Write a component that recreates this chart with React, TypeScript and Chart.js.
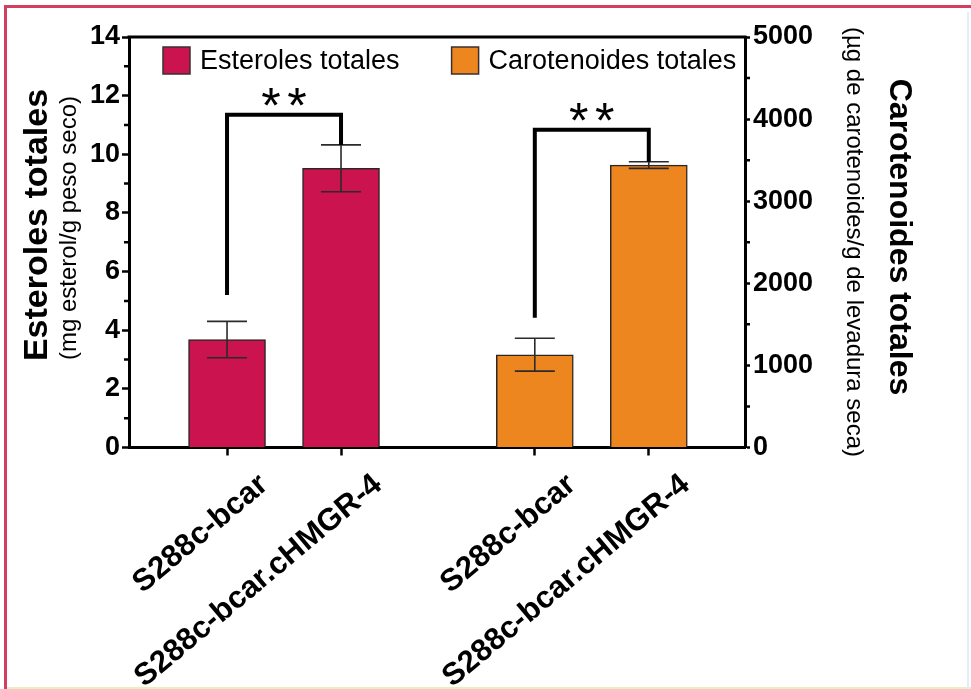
import { useEffect, useRef } from 'react';
import { Chart, registerables } from 'chart.js';

Chart.register(...registerables);

// Strains shown under each bar
const strainLabels = ['S288c-bcar', 'S288c-bcar.cHMGR-4', 'S288c-bcar', 'S288c-bcar.cHMGR-4'];

// Total sterols (mg sterol / g dry weight), mean and SD
const sterolLabel = 'Esteroles totales';
const sterolValues = [3.68, 9.52];
const sterolErrors = [0.62, 0.8];

// Total carotenoids (µg / g dry yeast), mean and SD
const carotenoidLabel = 'Carotenoides totales';
const carotenoidValues = [1130, 3440];
const carotenoidErrors = [200, 40];

// Axis tick labels
const sterolTickValues = [0, 2, 4, 6, 8, 10, 12, 14];
const carotenoidTickValues = [0, 1000, 2000, 3000, 4000, 5000];

// Significance brackets: bracket height and foot of the left leg, in axis units
const significance = [
  { dataset: 0, level: 11.35, leftFoot: 5.2, mark: '**' },
  { dataset: 1, level: 3870, leftFoot: 1580, mark: '**' },
];

// Horizontal slots of the four bars (second pair is set apart)
const slotX = [1, 2, 3.7, 4.7];
const X_MIN = 0.14;
const X_MAX = 5.544;

const SANS = '"Liberation Sans", Arial, sans-serif';
const STEROL_COLOR = '#cb1350';
const CAROTENOID_COLOR = '#ee8620';
const BAR_EDGE = '#2e2626';

const seriesInfo = [
  { values: sterolValues, errors: sterolErrors, axis: 'yL' },
  { values: carotenoidValues, errors: carotenoidErrors, axis: 'yR' },
];

const decorations = {
  id: 'decorations',
  beforeDraw(chart: any) {
    const { ctx, width, height } = chart;
    ctx.save();
    ctx.fillStyle = '#ffffff';
    ctx.fillRect(0, 0, width, height);
    // sheet frame
    ctx.fillStyle = '#d3405f';
    ctx.fillRect(4, 5, width - 4, 3);
    ctx.fillRect(4, 5, 3, height - 5);
    ctx.fillStyle = '#e3efc4';
    ctx.fillRect(7, height - 2, width - 7, 2);
    ctx.fillStyle = '#e4eef7';
    ctx.fillRect(width - 4, 12, 2, height - 12);
    ctx.restore();
  },
  afterDatasetsDraw(chart: any) {
    const { ctx } = chart;
    ctx.save();
    // error bars
    seriesInfo.forEach((s, di) => {
      const meta = chart.getDatasetMeta(di);
      const scale = chart.scales[s.axis];
      meta.data.forEach((bar: any, i: number) => {
        const x = bar.x;
        const top = scale.getPixelForValue(s.values[i] + s.errors[i]);
        const bot = scale.getPixelForValue(s.values[i] - s.errors[i]);
        ctx.strokeStyle = '#2b2b2b';
        ctx.lineWidth = 1.6;
        ctx.beginPath();
        ctx.moveTo(x, top);
        ctx.lineTo(x, bot);
        ctx.moveTo(x - 20, top);
        ctx.lineTo(x + 20, top);
        ctx.moveTo(x - 20, bot);
        ctx.lineTo(x + 20, bot);
        ctx.stroke();
      });
    });
    // significance brackets
    significance.forEach((sig) => {
      const s = seriesInfo[sig.dataset];
      const meta = chart.getDatasetMeta(sig.dataset);
      const scale = chart.scales[s.axis];
      const x1 = meta.data[0].x;
      const x2 = meta.data[1].x;
      const yLevel = scale.getPixelForValue(sig.level);
      const yLeft = scale.getPixelForValue(sig.leftFoot);
      const yRight = scale.getPixelForValue(s.values[1] + s.errors[1]);
      ctx.strokeStyle = '#000';
      ctx.lineWidth = 4;
      ctx.lineJoin = 'miter';
      ctx.beginPath();
      ctx.moveTo(x1, yLeft);
      ctx.lineTo(x1, yLevel);
      ctx.lineTo(x2, yLevel);
      ctx.lineTo(x2, yRight);
      ctx.stroke();
      ctx.fillStyle = '#000';
      ctx.font = `50px ${SANS}`;
      ctx.textAlign = 'center';
      ctx.textBaseline = 'alphabetic';
      const cx = (x1 + x2) / 2;
      const chars = sig.mark.split('');
      const gap = 26;
      chars.forEach((c, k) => {
        const off = (k - (chars.length - 1) / 2) * gap;
        ctx.fillText(c, cx + off, yLevel + 8);
      });
    });
    ctx.restore();
  },
  afterDraw(chart: any) {
    const { ctx, chartArea } = chart;
    const { left, right, top } = chartArea;
    ctx.save();
    // top frame line
    ctx.strokeStyle = '#000';
    ctx.lineWidth = 3;
    ctx.beginPath();
    ctx.moveTo(left - 1.5, top);
    ctx.lineTo(right + 1.5, top);
    ctx.stroke();
    // minor ticks
    ctx.lineWidth = 2.5;
    const yL = chart.scales.yL;
    const yR = chart.scales.yR;
    ctx.beginPath();
    for (let i = 0; i < sterolTickValues.length - 1; i++) {
      const v = (sterolTickValues[i] + sterolTickValues[i + 1]) / 2;
      const y = yL.getPixelForValue(v);
      ctx.moveTo(left - 5, y);
      ctx.lineTo(left, y);
    }
    for (let i = 0; i < carotenoidTickValues.length - 1; i++) {
      const v = (carotenoidTickValues[i] + carotenoidTickValues[i + 1]) / 2;
      const y = yR.getPixelForValue(v);
      ctx.moveTo(right, y);
      ctx.lineTo(right + 5, y);
    }
    ctx.stroke();

    // legend inside the plot
    const box = 27;
    let lx = left + 34;
    const boxTop = top + 10;
    ctx.font = `27px ${SANS}`;
    ctx.textAlign = 'left';
    ctx.textBaseline = 'middle';
    chart.data.datasets.forEach((ds: any) => {
      ctx.fillStyle = ds.backgroundColor;
      ctx.fillRect(lx, boxTop, box, box);
      ctx.strokeStyle = '#3a3030';
      ctx.lineWidth = 1.5;
      ctx.strokeRect(lx, boxTop, box, box);
      ctx.fillStyle = '#000';
      ctx.fillText(ds.label, lx + box + 10, boxTop + box / 2 + 1);
      lx += box + 10 + ctx.measureText(ds.label).width + 52;
    });

    // axis titles
    const vertical = (text: string, font: string, cx: number, cy: number, angle: number) => {
      ctx.save();
      ctx.translate(cx, cy);
      ctx.rotate(angle);
      ctx.font = font;
      ctx.fillStyle = '#000';
      ctx.textAlign = 'center';
      ctx.textBaseline = 'middle';
      ctx.fillText(text, 0, 0);
      ctx.restore();
    };
    vertical('Esteroles totales', `bold 34px ${SANS}`, 38, 225, -Math.PI / 2);
    vertical('(mg esterol/g peso seco)', `24px ${SANS}`, 69, 228, -Math.PI / 2);
    vertical('(µg de carotenoides/g de levadura seca)', `24px ${SANS}`, 854, 242, Math.PI / 2);
    vertical('Carotenoides totales', `bold 32px ${SANS}`, 899, 237, Math.PI / 2);
    ctx.restore();
  },
};

export default function App() {
  const canvasRef = useRef<HTMLCanvasElement | null>(null);

  useEffect(() => {
    if (!canvasRef.current) return;
    const tickFont = { family: SANS, size: 27, weight: 'bold' as const };
    const chart = new Chart(canvasRef.current, {
      type: 'bar',
      data: {
        datasets: [
          {
            label: sterolLabel,
            data: sterolValues.map((v, i) => ({ x: slotX[i], y: v })),
            yAxisID: 'yL',
            backgroundColor: STEROL_COLOR,
            borderColor: BAR_EDGE,
            borderWidth: 1.5,
            grouped: false,
            barThickness: 77,
          },
          {
            label: carotenoidLabel,
            data: carotenoidValues.map((v, i) => ({ x: slotX[i + 2], y: v })),
            yAxisID: 'yR',
            backgroundColor: CAROTENOID_COLOR,
            borderColor: BAR_EDGE,
            borderWidth: 1.5,
            grouped: false,
            barThickness: 77,
          },
        ],
      },
      options: {
        animation: false,
        responsive: true,
        maintainAspectRatio: false,
        layout: { padding: { left: 79, right: 126, top: 37, bottom: 0 } },
        plugins: {
          legend: { display: false },
          tooltip: { enabled: false },
        },
        scales: {
          x: {
            type: 'linear',
            min: X_MIN,
            max: X_MAX,
            offset: false,
            afterBuildTicks: (axis: any) => {
              axis.ticks = slotX.map((v) => ({ value: v }));
            },
            afterFit: (axis: any) => {
              axis.height = 241.5;
            },
            grid: {
              drawOnChartArea: false,
              offset: false,
              tickLength: 8,
              tickWidth: 2.5,
              tickColor: '#000',
            },
            border: { display: true, width: 3, color: '#000' },
            ticks: {
              autoSkip: false,
              minRotation: 40,
              maxRotation: 40,
              padding: 11,
              labelOffset: 37,
              color: '#000',
              font: { family: SANS, size: 31, weight: 'bold' },
              callback: (_v: any, i: number) => strainLabels[i] ?? '',
            },
          },
          yL: {
            type: 'linear',
            position: 'left',
            min: sterolTickValues[0],
            max: sterolTickValues[sterolTickValues.length - 1],
            afterBuildTicks: (axis: any) => {
              axis.ticks = sterolTickValues.map((v) => ({ value: v }));
            },
            afterFit: (axis: any) => {
              axis.width = 50;
            },
            grid: {
              drawOnChartArea: false,
              tickLength: 7,
              tickWidth: 2.5,
              tickColor: '#000',
            },
            border: { display: true, width: 3, color: '#000' },
            ticks: { padding: 2, color: '#000', font: tickFont },
          },
          yR: {
            type: 'linear',
            position: 'right',
            min: carotenoidTickValues[0],
            max: carotenoidTickValues[carotenoidTickValues.length - 1],
            afterBuildTicks: (axis: any) => {
              axis.ticks = carotenoidTickValues.map((v) => ({ value: v }));
            },
            afterFit: (axis: any) => {
              axis.width = 100;
            },
            grid: {
              drawOnChartArea: false,
              tickLength: 5,
              tickWidth: 2.5,
              tickColor: '#000',
            },
            border: { display: true, width: 3, color: '#000' },
            ticks: {
              padding: 3,
              color: '#000',
              font: tickFont,
              callback: (v: any) => String(v),
            },
          },
        },
      },
      plugins: [decorations],
    });
    return () => chart.destroy();
  }, []);

  return (
    <div
      style={{
        position: 'absolute',
        left: 0,
        top: 0,
        width: 971,
        height: 689,
        background: '#fff',
      }}
    >
      <canvas ref={canvasRef} />
    </div>
  );
}
